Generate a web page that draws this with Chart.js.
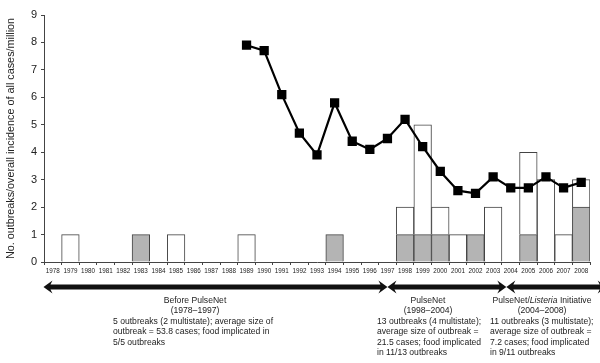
<!DOCTYPE html>
<html>
<head>
<meta charset="utf-8">
<script src="https://cdn.jsdelivr.net/npm/chart.js@4"></script>
<style>
  html, body { margin: 0; padding: 0; background: #fff; }
  canvas { display: block; }
</style>
</head>
<body>
<canvas id="chart" width="600" height="363"></canvas>
<script>
const years = ['1978','1979','1980','1981','1982','1983','1984','1985','1986','1987','1988','1989','1990','1991','1992','1993','1994','1995','1996','1997','1998','1999','2000','2001','2002','2003','2004','2005','2006','2007','2008'];
// multistate outbreaks (gray) and the rest (white), stacked
const multistate = [null,null,null,null,null,1,null,null,null,null,null,null,null,null,null,null,1,null,null,null,1,1,1,null,1,null,null,1,null,null,2];
const otherOutbreaks = [null,1,null,null,null,null,null,1,null,null,null,1,null,null,null,null,null,null,null,null,1,4,1,1,null,2,null,3,3,1,1];
// overall incidence, cases per million
const incidence = [null,null,null,null,null,null,null,null,null,null,null,7.9,7.7,6.1,4.7,3.9,5.8,4.4,4.1,4.5,5.2,4.2,3.3,2.6,2.5,3.1,2.7,2.7,3.1,2.7,2.9];
const yTicks = [0,1,2,3,4,5,6,7,8,9];

const periodTitles = ['Before PulseNet', 'PulseNet', 'PulseNet/|Listeria| Initiative'];
const periodYears = ['(1978–1997)', '(1998–2004)', '(2004–2008)'];
const periodNotes = [
  ['5 outbreaks (2 multistate); average size of', 'outbreak = 53.8 cases; food implicated in', '5/5 outbreaks'],
  ['13 outbreaks (4 multistate);', 'average size of outbreak =', '21.5 cases; food implicated', 'in 11/13 outbreaks'],
  ['11 outbreaks (3 multistate);', 'average size of outbreak =', '7.2 cases; food implicated', 'in 9/11 outbreaks']
];

const FONT = '"Liberation Sans", Arial, sans-serif';
const ink = '#222';

function doubleArrow(ctx, x1, x2, y) {
  const shaft = 2.6, head = 6.5, len = 9;
  ctx.beginPath();
  ctx.moveTo(x1, y);
  ctx.lineTo(x1 + len, y - head);
  ctx.lineTo(x1 + len - 2, y - shaft);
  ctx.lineTo(x2 - len + 2, y - shaft);
  ctx.lineTo(x2 - len, y - head);
  ctx.lineTo(x2, y);
  ctx.lineTo(x2 - len, y + head);
  ctx.lineTo(x2 - len + 2, y + shaft);
  ctx.lineTo(x1 + len - 2, y + shaft);
  ctx.lineTo(x1 + len, y + head);
  ctx.closePath();
  ctx.fill();
}

// title with |italic| parts, centered on cx
function mixedText(ctx, str, cx, y, size) {
  const parts = str.split('|');
  let w = 0;
  parts.forEach((p, i) => {
    ctx.font = (i % 2 ? 'italic ' : '') + size + 'px ' + FONT;
    w += ctx.measureText(p).width;
  });
  let x = cx - w / 2;
  ctx.textAlign = 'left';
  parts.forEach((p, i) => {
    ctx.font = (i % 2 ? 'italic ' : '') + size + 'px ' + FONT;
    ctx.fillText(p, x, y);
    x += ctx.measureText(p).width;
  });
}

const periodsPlugin = {
  id: 'periods',
  afterDraw(chart) {
    const ctx = chart.ctx, x = chart.scales.x;
    const px = v => x.getPixelForValue(v);
    // arrow spans in category index units
    const spans = [[-0.53, 19], [19, 25.75], [25.75, 31.45]];
    const centers = [195, 428, 542];
    const lefts = [113, 377, 490];
    const size = 8.6;
    const arrowY = 287, line0 = 303, step = 10.4;
    ctx.save();
    ctx.fillStyle = '#111';
    spans.forEach(s => doubleArrow(ctx, px(s[0]), px(s[1]), arrowY));
    ctx.fillStyle = ink;
    ctx.textBaseline = 'alphabetic';
    periodTitles.forEach((t, i) => {
      mixedText(ctx, t, centers[i], line0, size);
      ctx.font = size + 'px ' + FONT;
      ctx.textAlign = 'center';
      ctx.fillText(periodYears[i], centers[i], line0 + step);
      ctx.textAlign = 'left';
      periodNotes[i].forEach((n, j) => ctx.fillText(n, lefts[i], line0 + step * (j + 2)));
    });
    ctx.restore();
  }
};

new Chart(document.getElementById('chart'), {
  type: 'bar',
  data: {
    labels: years,
    datasets: [
      {
        type: 'line', label: 'Incidence', data: incidence, order: 0, stack: 'inc',
        borderColor: '#000', borderWidth: 2.2, backgroundColor: '#000',
        pointStyle: 'rect', pointRadius: 5, pointHoverRadius: 5, tension: 0, spanGaps: false
      },
      {
        label: 'Multistate', data: multistate, order: 1, stack: 'ob',
        backgroundColor: '#b4b4b4', borderColor: '#444', borderWidth: 1,
        barPercentage: 1, categoryPercentage: 1
      },
      {
        label: 'Other', data: otherOutbreaks, order: 2, stack: 'ob',
        backgroundColor: '#fff', borderColor: '#444', borderWidth: 1,
        barPercentage: 1, categoryPercentage: 1
      }
    ]
  },
  options: {
    responsive: false,
    animation: false,
    devicePixelRatio: 1,
    layout: { padding: { top: 15, right: 10, left: 0, bottom: 0 } },
    plugins: { legend: { display: false }, tooltip: { enabled: false } },
    scales: {
      x: {
        stacked: true,
        offset: true,
        grid: { offset: true, drawOnChartArea: false, tickLength: 3, color: '#444' },
        border: { color: '#444' },
        ticks: { autoSkip: false, maxRotation: 0, padding: 2, color: ink, font: { family: FONT, size: 6.3 } },
        afterFit: s => { s.height = 101; }
      },
      y: {
        stacked: true,
        min: 0, max: 9,
        afterBuildTicks: s => { s.ticks = yTicks.map(v => ({ value: v })); },
        grid: { drawOnChartArea: false, tickLength: 3, color: '#444' },
        border: { color: '#444' },
        ticks: { padding: 4, color: ink, font: { family: FONT, size: 11 } },
        title: {
          display: true, text: 'No. outbreaks/overall incidence of all cases/million',
          color: ink, font: { family: FONT, size: 10.8 }, padding: { top: 5, bottom: 0 }
        },
        afterFit: s => { s.width = 44; }
      }
    }
  },
  plugins: [periodsPlugin]
});
</script>
</body>
</html>
